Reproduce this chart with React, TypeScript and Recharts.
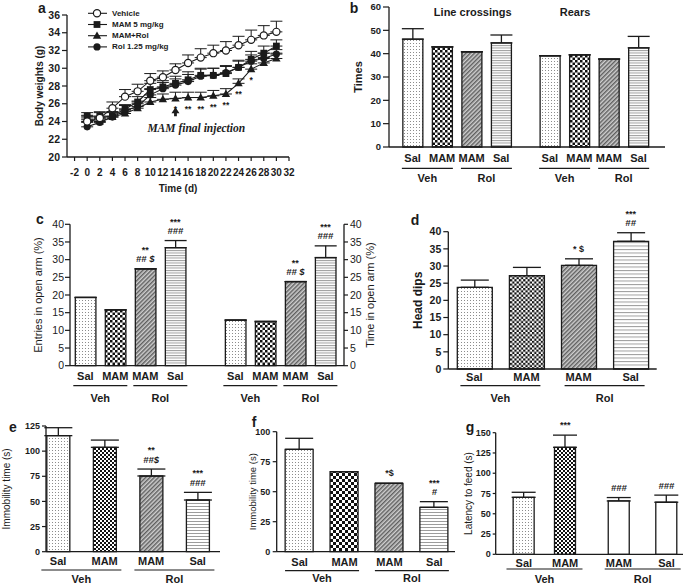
import React from "react";
import {
  LineChart,
  Line,
  ComposedChart,
  Bar,
  Cell,
  Scatter,
  XAxis,
  YAxis,
  ErrorBar,
  Legend,
  LabelList,
  ReferenceDot,
} from "recharts";

const FONT = "Arial, 'Liberation Sans', Helvetica, sans-serif";
const SERIF = "'Times New Roman', 'Liberation Serif', serif";
const INK = "#1b1b1b";

// ---- a: body weight
const days = [0, 2, 4, 6, 8, 10, 12, 14, 16, 18, 20, 22, 24, 26, 28, 30];
const vehicleW = [24.0, 24.4, 25.5, 26.8, 27.4, 28.6, 29.0, 29.8, 30.6, 31.2, 31.7, 32.0, 32.6, 33.2, 33.7, 34.1];
const vehicleErr = [0.4, 0.6, 0.7, 0.8, 0.8, 0.8, 0.7, 0.7, 0.9, 1.0, 0.9, 1.0, 1.0, 1.1, 1.1, 1.2];
const mamW = [24.6, 24.6, 24.6, 25.4, 26.2, 27.6, 27.9, 28.3, 28.7, 29.2, 29.2, 29.4, 30.1, 31.0, 31.7, 32.5];
const mamErr = [0.4, 0.5, 0.5, 0.5, 0.6, 0.7, 0.7, 0.8, 0.9, 0.8, 0.8, 0.8, 0.8, 0.9, 0.8, 0.7];
const mamRolW = [24.2, 24.0, 24.5, 24.9, 25.5, 26.2, 26.5, 26.6, 26.7, 26.7, 26.9, 27.1, 28.3, 29.9, 30.6, 31.1];
const mamRolErr = [0.5, 0.4, 0.5, 0.5, 0.5, 0.5, 0.6, 0.7, 0.6, 0.6, 0.6, 0.6, 0.5, 0.6, 0.6, 0.6];
const mamRolSig = ["", "", "", "", "", "", "", "*", "**", "**", "**", "**", "**", "*", "", ""];
const rolW = [23.4, 23.9, 24.5, 25.2, 25.7, 27.0, 27.7, 28.1, 28.5, 29.1, 29.2, 29.5, 30.1, 30.8, 31.1, 31.6];
const rolErr = [0.5, 0.5, 0.6, 0.6, 0.6, 0.7, 0.7, 0.7, 0.8, 0.8, 0.8, 0.8, 0.7, 0.7, 0.6, 0.5];
const weightTicksX = [-2, 0, 2, 4, 6, 8, 10, 12, 14, 16, 18, 20, 22, 24, 26, 28, 30, 32];
const weightTicksY = [20, 22, 24, 26, 28, 30, 32, 34, 36];

// ---- b-g: group bars
const treatments = ["Sal", "MAM", "MAM", "Sal"];
const groups = ["Veh", "Rol"];

const lineCrossings = [46.2, 42.9, 40.8, 44.6];
const lineCrossingsErr = [4.5, 0, 0, 3.4];
const rears = [39.1, 39.5, 37.7, 42.5];
const rearsErr = [0, 0, 0, 4.9];

const openArmEntries = [19.3, 15.8, 27.4, 33.4];
const openArmEntriesErr = [0, 0, 0, 2.0];
const openArmEntriesSig = ["", "", "**\n## $", "***\n###"];
const openArmTime = [12.9, 12.5, 23.8, 30.6];
const openArmTimeErr = [0, 0, 0, 3.3];
const openArmTimeSig = ["", "", "**\n## $", "***\n###"];

const headDips = [23.8, 27.2, 30.2, 37.2];
const headDipsErr = [2.1, 2.4, 1.9, 2.5];
const headDipsSig = ["", "", "* $", "***\n##"];

const tailImmobility = [115.4, 103.8, 75.3, 51.4];
const tailImmobilityErr = [7.9, 7.2, 6.9, 7.6];
const tailImmobilitySig = ["", "", "**\n##$", "***\n###"];

const swimImmobility = [85.3, 66.7, 57.0, 37.0];
const swimImmobilityErr = [9.2, 0, 0, 4.7];
const swimImmobilitySig = ["", "", "*$", "***\n#"];

const feedLatency = [70.3, 132, 65.8, 64.2];
const feedLatencyErr = [6.2, 15, 4.2, 8.8];
const feedLatencySig = ["", "***", "###", "###"];

const weightRows = days.map((day, i) => ({
  day,
  veh: vehicleW[i],
  vehErr: [0, vehicleErr[i]],
  mam: mamW[i],
  mamErr: [0, mamErr[i]],
  mamRol: mamRolW[i],
  mamRolErr: [0, mamRolErr[i]],
  mamRolSig: mamRolSig[i],
  rol: rolW[i],
  rolErr: [0, rolErr[i]],
}));

const weightSeries = [
  { key: "veh", name: "Vehicle", kind: "open" },
  { key: "mam", name: "MAM 5 mg/kg", kind: "square" },
  { key: "mamRol", name: "MAM+Rol", kind: "tri" },
  { key: "rol", name: "Rol 1.25 mg/kg", kind: "dot" },
];

const Marker = ({ kind, cx, cy }: any) => {
  if (cx == null || cy == null) return <g />;
  if (kind === "open")
    return <circle cx={cx} cy={cy} r={3.6} fill="#fff" stroke={INK} strokeWidth={1.2} />;
  if (kind === "square")
    return <rect x={cx - 3.4} y={cy - 3.4} width={6.8} height={6.8} fill={INK} />;
  if (kind === "tri")
    return <path d={`M${cx},${cy - 4.3} L${cx + 4.2},${cy + 3} L${cx - 4.2},${cy + 3} Z`} fill={INK} />;
  return <circle cx={cx} cy={cy} r={3.6} fill={INK} />;
};

function WeightLegend() {
  return (
    <svg width={120} height={48} style={{ display: "block" }}>
      {weightSeries.map((s, i) => {
        const cy = 7.3 + i * 11.2;
        return (
          <g key={s.key}>
            <line x1={4} x2={23} y1={cy} y2={cy} stroke={INK} strokeWidth={1.1} />
            <Marker kind={s.kind} cx={13} cy={cy} />
            <text x={28} y={cy} dominantBaseline="central" fontSize={8} fontWeight={700} fontFamily={FONT} fill={INK}>
              {s.name}
            </text>
          </g>
        );
      })}
    </svg>
  );
}

const StarLabel = ({ x, y, value }: any) =>
  value ? (
    <text x={x} y={y + 11} textAnchor="middle" dominantBaseline="central" fontSize={8.5} fontWeight={700} fontFamily={FONT} fill={INK}>
      {value}
    </text>
  ) : null;

const InjectionArrow = ({ cx, cy }: any) => (
  <path
    d={`M${cx},${cy} L${cx + 4},${cy + 6} L${cx + 1.4},${cy + 6} L${cx + 1.4},${cy + 9} L${cx - 1.4},${cy + 9} L${cx - 1.4},${cy + 6} L${cx - 4},${cy + 6} Z`}
    fill={INK}
  />
);

const InjectionText = ({ cx, cy }: any) => (
  <text x={cx} y={cy} textAnchor="middle" dominantBaseline="central" fontSize={11.5} fontStyle="italic" fontWeight={700} fontFamily={SERIF} fill={INK}>
    MAM final injection
  </text>
);

function WeightPanel() {
  const tick = { fontSize: 10.5, fontWeight: 700, fill: INK, fontFamily: FONT };
  return (
    <div style={{ position: "absolute", left: 0, top: 0 }}>
      <LineChart width={300} height={200} data={weightRows} margin={{ top: 15, right: 11, bottom: 5, left: 0 }}>
        <XAxis
          dataKey="day"
          type="number"
          domain={[-3.2, 32]}
          ticks={weightTicksX}
          interval={0}
          height={38}
          tickSize={4}
          tickMargin={8}
          tick={{ ...tick, fontSize: 10 }}
          axisLine={{ stroke: INK, strokeWidth: 1.3 }}
          tickLine={{ stroke: INK, strokeWidth: 1.2 }}
          label={{
            content: () => (
              <text x={178} y={188} textAnchor="middle" dominantBaseline="central" fontSize={10} fontWeight={700} fontFamily={FONT} fill={INK}>
                Time (d)
              </text>
            ),
          }}
        />
        <YAxis
          domain={[20, 36]}
          ticks={weightTicksY}
          interval={0}
          width={67}
          tickSize={5}
          tickMargin={2}
          tick={tick}
          axisLine={{ stroke: INK, strokeWidth: 1.3 }}
          tickLine={{ stroke: INK, strokeWidth: 1.2 }}
          label={{
            content: () => (
              <text x={39} y={86} transform="rotate(-90 39 86)" textAnchor="middle" dominantBaseline="central" fontSize={10} fontWeight={700} fontFamily={FONT} fill={INK}>
                Body weights (g)
              </text>
            ),
          }}
        />
        <Legend
          layout="vertical"
          align="center"
          verticalAlign="middle"
          wrapperStyle={{ left: 84, top: 6, width: 120, height: 48 }}
          content={() => <WeightLegend />}
        />
        {[...weightSeries].reverse().map((s) => (
          <Line
            key={s.key}
            dataKey={s.key}
            name={s.name}
            type="linear"
            stroke={INK}
            strokeWidth={1.1}
            isAnimationActive={false}
            activeDot={false}
            dot={(p: any) => <Marker key={`${s.key}-${p.index}`} kind={s.kind} cx={p.cx} cy={p.cy} />}
          >
            <ErrorBar dataKey={`${s.key}Err`} width={6} stroke={INK} strokeWidth={1} direction="y" />
            {s.key === "mamRol" ? <LabelList dataKey="mamRolSig" content={StarLabel} /> : null}
          </Line>
        ))}
        <ReferenceDot x={14} y={25.6} r={0} shape={InjectionArrow} />
        <ReferenceDot x={17.3} y={23.3} r={0} shape={InjectionText} />
      </LineChart>
    </div>
  );
}

// ---- bar panels
function patterns(id: string, check: number, hline: number) {
  const h = check / 2;
  return (
    <defs>
      <pattern id={`${id}-dots`} width={3} height={3} patternUnits="userSpaceOnUse">
        <rect width={3} height={3} fill="#fff" />
        <rect x={1} y={1} width={1} height={1} fill="#8c8c8c" />
      </pattern>
      <pattern id={`${id}-check`} width={check} height={check} patternUnits="userSpaceOnUse">
        <rect width={check} height={check} fill="#fff" />
        <rect width={h} height={h} fill="#111" />
        <rect x={h} y={h} width={h} height={h} fill="#111" />
      </pattern>
      <pattern id={`${id}-diag`} width={3} height={3} patternUnits="userSpaceOnUse" patternTransform="rotate(45)">
        <rect width={3} height={3} fill="#cfcfcf" />
        <line x1={0.8} y1={0} x2={0.8} y2={3} stroke="#3a3a3a" strokeWidth={1.1} />
      </pattern>
      <pattern id={`${id}-hline`} width={4} height={hline} patternUnits="userSpaceOnUse">
        <rect width={4} height={hline} fill="#fff" />
        <rect width={4} height={1} fill="#9c9c9c" />
      </pattern>
    </defs>
  );
}

const CatTick = ({ x, y, index, cats, dy }: any) => (
  <text x={x} y={y + dy} textAnchor="middle" dominantBaseline="central" fontSize={11} fontWeight={700} fontFamily={FONT} fill={INK}>
    {cats[index]}
  </text>
);

const GroupTick = ({ x, y, index, names, hw, lineDy, textDy }: any) => (
  <g>
    <line x1={x - hw} x2={x + hw} y1={y + lineDy} y2={y + lineDy} stroke={INK} strokeWidth={1.2} />
    <text x={x} y={y + textDy} textAnchor="middle" dominantBaseline="central" fontSize={11} fontWeight={700} fontFamily={FONT} fill={INK}>
      {names[index]}
    </text>
  </g>
);

const SigMark = ({ cx, cy, payload }: any) => {
  if (!payload || !payload.sig) return <g />;
  const lines: string[] = payload.sig.split("\n");
  return (
    <g>
      {lines.map((t, i) => {
        const y = cy - 10 - (lines.length - 1 - i) * 9;
        const hash = t.includes("#");
        return (
          <text
            key={i}
            x={cx}
            y={y}
            textAnchor="middle"
            dominantBaseline="central"
            fontSize={hash ? 9.5 : 9}
            fontStyle={hash ? "italic" : "normal"}
            fontWeight={700}
            fontFamily={FONT}
            fill={INK}
          >
            {t}
          </text>
        );
      })}
    </g>
  );
};

const Nothing = () => <g />;

type Tk = { size: number; margin: number; font: number; weight: number };

type BarPanelProps = {
  id: string;
  box: [number, number, number, number];
  plot: { top: number; bottom: number; left: number; right: number };
  cats: string[];
  pos: number[];
  values: number[];
  errs: number[];
  sigs: string[];
  fills: string[];
  xDomain: [number, number];
  groupAt: number[];
  groupNames: string[];
  groupHw: number;
  catDy: number;
  lineDy: number;
  textDy: number;
  barSize: number;
  cap: number;
  yDomain: [number, number];
  yTicks: number[];
  tick: Tk;
  yLabel: string;
  yLabelX: number;
  yLabelFont: number;
  yLabelWeight: number;
  right?: { label: string; labelX: number; tick: Tk };
  check: number;
  hline: number;
};

function BarPanel(p: BarPanelProps) {
  const [L, T, W, H] = p.box;
  const catH = 14;
  const margin = {
    top: p.plot.top - T,
    left: 0,
    bottom: 0,
    right: p.right ? 0 : L + W - p.plot.right,
  };
  const groupH = T + H - p.plot.bottom - catH;
  const cy = (p.plot.top + p.plot.bottom) / 2 - T;
  const rows = p.pos.map((x, i) => ({
    x,
    value: p.values[i],
    err: [0, p.errs[i]],
    top: p.values[i] + p.errs[i],
    sig: p.sigs[i],
  }));
  const tickStyle = (t: Tk) => ({ fontSize: t.font, fontWeight: t.weight, fill: INK, fontFamily: FONT });
  const axisLine = { stroke: INK, strokeWidth: 1.3 };
  const vTitle = (text: string, x: number) => () => (
    <text
      x={x}
      y={cy}
      transform={`rotate(-90 ${x} ${cy})`}
      textAnchor="middle"
      dominantBaseline="central"
      fontSize={p.yLabelFont}
      fontWeight={p.yLabelWeight}
      fontFamily={FONT}
      fill={INK}
    >
      {text}
    </text>
  );
  return (
    <div style={{ position: "absolute", left: L, top: T }}>
      <ComposedChart width={W} height={H} data={rows} margin={margin}>
        {patterns(p.id, p.check, p.hline)}
        <XAxis
          xAxisId="c"
          dataKey="x"
          type="number"
          domain={p.xDomain}
          ticks={p.pos}
          interval={0}
          height={catH}
          tickSize={0}
          tickMargin={0}
          tickLine={false}
          axisLine={axisLine}
          tick={<CatTick cats={p.cats} dy={p.catDy} />}
        />
        <XAxis
          xAxisId="g"
          dataKey="x"
          type="number"
          domain={p.xDomain}
          ticks={p.groupAt}
          interval={0}
          height={groupH}
          tickSize={0}
          tickMargin={0}
          tickLine={false}
          axisLine={false}
          tick={
            <GroupTick names={p.groupNames} hw={p.groupHw} lineDy={p.lineDy - catH} textDy={p.textDy - catH} />
          }
        />
        <YAxis
          yAxisId="l"
          width={p.plot.left - L}
          domain={p.yDomain}
          ticks={p.yTicks}
          interval={0}
          tickSize={p.tick.size}
          tickMargin={p.tick.margin}
          tick={tickStyle(p.tick)}
          axisLine={axisLine}
          tickLine={{ stroke: INK, strokeWidth: 1.2 }}
          label={{ content: vTitle(p.yLabel, p.yLabelX) }}
        />
        {p.right ? (
          <YAxis
            yAxisId="r"
            orientation="right"
            width={L + W - p.plot.right}
            domain={p.yDomain}
            ticks={p.yTicks}
            interval={0}
            tickSize={p.right.tick.size}
            tickMargin={p.right.tick.margin}
            tick={tickStyle(p.right.tick)}
            axisLine={axisLine}
            tickLine={{ stroke: INK, strokeWidth: 1.2 }}
            label={{ content: vTitle(p.right.label, p.right.labelX) }}
          />
        ) : null}
        <Bar
          xAxisId="c"
          yAxisId="l"
          dataKey="value"
          barSize={p.barSize}
          stroke={INK}
          strokeWidth={1.3}
          isAnimationActive={false}
        >
          {rows.map((_, i) => (
            <Cell key={`c-${i}`} fill={p.fills[i] === "white" ? "#fff" : `url(#${p.id}-${p.fills[i]})`} />
          ))}
          <ErrorBar dataKey="err" width={p.cap} stroke={INK} strokeWidth={1.3} direction="y" />
        </Bar>
        <Scatter xAxisId="c" yAxisId="l" dataKey="top" shape={SigMark} isAnimationActive={false} />
        {/* keep the group axis (and the right axis) bound to the same values */}
        <Scatter xAxisId="g" yAxisId="l" dataKey="value" shape={Nothing} isAnimationActive={false} />
        {p.right ? (
          <Scatter xAxisId="c" yAxisId="r" dataKey="value" shape={Nothing} isAnimationActive={false} />
        ) : null}
      </ComposedChart>
    </div>
  );
}

const FOUR = ["dots", "check", "diag", "hline"];

const Txt = ({ x, y, size, weight = 700, children }: any) => (
  <div
    style={{
      position: "absolute",
      left: x,
      top: y,
      transform: "translate(-50%, -50%)",
      fontSize: size,
      fontWeight: weight,
      lineHeight: 1,
      whiteSpace: "nowrap",
      color: INK,
      fontFamily: FONT,
    }}
  >
    {children}
  </div>
);

export default function App() {
  const boldTick = (font: number, size: number, margin: number): Tk => ({ font, size, margin, weight: 700 });
  return (
    <div
      style={{
        position: "absolute",
        left: 0,
        top: 0,
        width: 685,
        height: 587,
        background: "#fff",
        fontFamily: FONT,
        overflow: "hidden",
      }}
    >
      <WeightPanel />

      <BarPanel
        id="pb"
        box={[340, 0, 330, 200]}
        plot={{ top: 7, bottom: 147, left: 389, right: 665 }}
        cats={[...treatments, ...treatments]}
        pos={[1, 2, 3, 4, 5.65, 6.65, 7.65, 8.65]}
        values={[...lineCrossings, ...rears]}
        errs={[...lineCrossingsErr, ...rearsErr]}
        sigs={["", "", "", "", "", "", "", ""]}
        fills={[...FOUR, ...FOUR]}
        xDomain={[0.2, 9.55]}
        groupAt={[1.5, 3.5, 6.15, 8.15]}
        groupNames={[...groups, ...groups]}
        groupHw={25.5}
        catDy={11.3}
        lineDy={21.3}
        textDy={31.3}
        barSize={20}
        cap={11}
        yDomain={[0, 60]}
        yTicks={[0, 10, 20, 30, 40, 50, 60]}
        tick={boldTick(9.5, 6, 2)}
        yLabel="Times"
        yLabelX={18}
        yLabelFont={11}
        yLabelWeight={700}
        check={5}
        hline={2.5}
      />

      <BarPanel
        id="pc"
        box={[0, 200, 400, 210]}
        plot={{ top: 224.3, bottom: 365.7, left: 70, right: 344 }}
        cats={[...treatments, ...treatments]}
        pos={[1, 2, 3, 4, 6, 7, 8, 9]}
        values={[...openArmEntries, ...openArmTime]}
        errs={[...openArmEntriesErr, ...openArmTimeErr]}
        sigs={[...openArmEntriesSig, ...openArmTimeSig]}
        fills={[...FOUR, ...FOUR]}
        xDomain={[0.49, 9.62]}
        groupAt={[1.5, 3.5, 6.5, 8.5]}
        groupNames={[...groups, ...groups]}
        groupHw={27}
        catDy={10}
        lineDy={20}
        textDy={32}
        barSize={20.6}
        cap={11}
        yDomain={[0, 40]}
        yTicks={[0, 5, 10, 15, 20, 25, 30, 35, 40]}
        tick={{ font: 10.5, size: 5, margin: 1, weight: 400 }}
        yLabel="Entries in open arm (%)"
        yLabelX={38}
        yLabelFont={11}
        yLabelWeight={400}
        right={{ label: "Time in open arm (%)", labelX: 370, tick: { font: 10.5, size: 4, margin: 2, weight: 400 } }}
        check={5}
        hline={2.5}
      />

      <BarPanel
        id="pd"
        box={[400, 200, 270, 212]}
        plot={{ top: 231.7, bottom: 369, left: 448.3, right: 656.7 }}
        cats={treatments}
        pos={[1, 2, 3, 4]}
        values={headDips}
        errs={headDipsErr}
        sigs={headDipsSig}
        fills={FOUR}
        xDomain={[0.5, 4.5]}
        groupAt={[1.5, 3.5]}
        groupNames={groups}
        groupHw={40}
        catDy={8}
        lineDy={16.7}
        textDy={29}
        barSize={35}
        cap={14}
        yDomain={[0, 40]}
        yTicks={[0, 5, 10, 15, 20, 25, 30, 35, 40]}
        tick={boldTick(10.5, 5, 2)}
        yLabel="Head dips"
        yLabelX={18}
        yLabelFont={12}
        yLabelWeight={700}
        check={4.4}
        hline={3.5}
      />

      <BarPanel
        id="pe"
        box={[0, 410, 230, 177]}
        plot={{ top: 426, bottom: 551.7, left: 46, right: 220 }}
        cats={treatments}
        pos={[1, 2, 3, 4]}
        values={tailImmobility}
        errs={tailImmobilityErr}
        sigs={tailImmobilitySig}
        fills={FOUR}
        xDomain={[0.74, 4.48]}
        groupAt={[1.5, 3.5]}
        groupNames={groups}
        groupHw={40}
        catDy={9}
        lineDy={18.3}
        textDy={27.3}
        barSize={23}
        cap={14}
        yDomain={[0, 125]}
        yTicks={[0, 25, 50, 75, 100, 125]}
        tick={boldTick(9, 4, 2)}
        yLabel="Immobility time (s)"
        yLabelX={7}
        yLabelFont={10}
        yLabelWeight={400}
        check={4}
        hline={3}
      />

      <BarPanel
        id="pf"
        box={[225, 410, 230, 177]}
        plot={{ top: 431.7, bottom: 551.7, left: 276.7, right: 455 }}
        cats={treatments}
        pos={[1, 2, 3, 4]}
        values={swimImmobility}
        errs={swimImmobilityErr}
        sigs={swimImmobilitySig}
        fills={FOUR}
        xDomain={[0.49, 4.46]}
        groupAt={[1.5, 3.5]}
        groupNames={groups}
        groupHw={37}
        catDy={10}
        lineDy={19}
        textDy={26.3}
        barSize={28}
        cap={14}
        yDomain={[0, 100]}
        yTicks={[0, 25, 50, 75, 100]}
        tick={boldTick(9, 4, 2.5)}
        yLabel="Immobility time (s)"
        yLabelX={28}
        yLabelFont={9.5}
        yLabelWeight={400}
        check={6}
        hline={3}
      />

      <BarPanel
        id="pg"
        box={[455, 410, 230, 177]}
        plot={{ top: 432.7, bottom: 554.3, left: 495.7, right: 683 }}
        cats={treatments}
        pos={[1, 2, 3.3, 4.45]}
        values={feedLatency}
        errs={feedLatencyErr}
        sigs={feedLatencySig}
        fills={["dots", "check", "white", "white"]}
        xDomain={[0.32, 4.85]}
        groupAt={[1.5, 3.875]}
        groupNames={groups}
        groupHw={38}
        catDy={8.7}
        lineDy={14.7}
        textDy={24.7}
        barSize={21}
        cap={12}
        yDomain={[0, 150]}
        yTicks={[0, 25, 50, 75, 100, 125, 150]}
        tick={boldTick(9, 3, 2)}
        yLabel="Latency to feed (s)"
        yLabelX={13}
        yLabelFont={10}
        yLabelWeight={400}
        check={4}
        hline={3}
      />

      <Txt x={42} y={8} size={14}>a</Txt>
      <Txt x={354} y={8} size={14}>b</Txt>
      <Txt x={40} y={219} size={14}>c</Txt>
      <Txt x={415} y={220} size={14}>d</Txt>
      <Txt x={13} y={427} size={14}>e</Txt>
      <Txt x={254} y={422} size={14}>f</Txt>
      <Txt x={470} y={427} size={14}>g</Txt>
      <Txt x={472.7} y={12} size={11}>Line crossings</Txt>
      <Txt x={575} y={12} size={11}>Rears</Txt>
    </div>
  );
}
